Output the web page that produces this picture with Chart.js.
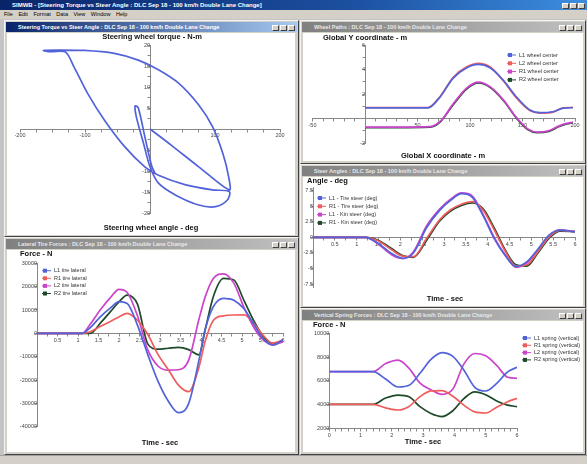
<!DOCTYPE html>
<html>
<head>
<meta charset="utf-8">
<title>Double lane change plots</title>
<script src="https://cdn.jsdelivr.net/npm/chart.js@4.4.1/dist/chart.umd.min.js"></script>
<style>
  body { margin: 0; width: 587px; height: 464px; position: relative; overflow: hidden; background: #c4c4c4; font-family: "Liberation Sans", Arial, sans-serif; }
  .bar { position: absolute; left: 0; width: 587px; white-space: nowrap; overflow: hidden; }
  #apptitle { top: 0; height: 10px; background: linear-gradient(90deg, #0a246a, #1c50a0 60%, #3d8ee0); color: #fff; font-size: 6px; font-weight: bold; line-height: 10px; text-indent: 12px; }
  #menu { top: 10px; height: 9px; background: #d4d0c8; font-size: 5.5px; line-height: 9px; text-indent: 4px; word-spacing: 4px; }
  #status { top: 455px; height: 9px; background: #d4d0c8; border-top: 1px solid #a0a0a0; }
  .win { position: absolute; background: #d4d0c8; border: 1px solid; border-color: #f4f4f4 #404040 #404040 #f4f4f4; box-sizing: border-box; }
  .cap { position: absolute; left: 1px; right: 1px; top: 1px; height: 10px; color: #e8e8e8; font-size: 5.5px; font-weight: bold; line-height: 10px; text-indent: 12px; white-space: nowrap; overflow: hidden; background: linear-gradient(90deg, #808080, #c0c0c0); }
  .cap.on { color: #fff; background: linear-gradient(90deg, #0a246a, #a6caf0); }
  .btns { position: absolute; right: 2px; top: 2px; height: 6px; }
  .btns span { display: inline-block; width: 7px; height: 6px; margin-left: 1px; background: #d4d0c8; box-sizing: border-box; border: 1px solid; border-color: #fff #404040 #404040 #fff; }
  canvas { position: absolute; background: #fff; }
</style>
</head>
<body>
<div id="apptitle" class="bar">SIMWB - [Steering Torque vs Steer Angle : DLC Sep 18 - 100 km/h Double Lane Change]<div class="btns"><span></span><span></span><span></span></div></div>
<div id="menu" class="bar">File Edit Format Data View Window Help</div>

<div class="win" style="left:4px; top:20px; width:295px; height:217px;"><div class="cap on">Steering Torque vs Steer Angle : DLC Sep 18 - 100 km/h Double Lane Change<div class="btns"><span></span><span></span><span></span></div></div></div>
<div class="win" style="left:4px; top:237px; width:295px; height:218px;"><div class="cap">Lateral Tire Forces : DLC Sep 18 - 100 km/h Double Lane Change<div class="btns"><span></span><span></span><span></span></div></div></div>
<div class="win" style="left:300px; top:20px; width:286px; height:144px;"><div class="cap">Wheel Paths : DLC Sep 18 - 100 km/h Double Lane Change<div class="btns"><span></span><span></span><span></span></div></div></div>
<div class="win" style="left:300px; top:164px; width:286px; height:144px;"><div class="cap">Steer Angles : DLC Sep 18 - 100 km/h Double Lane Change<div class="btns"><span></span><span></span><span></span></div></div></div>
<div class="win" style="left:300px; top:308px; width:286px; height:147px;"><div class="cap">Vertical Spring Forces : DLC Sep 18 - 100 km/h Double Lane Change<div class="btns"><span></span><span></span><span></span></div></div></div>
<div id="status" class="bar"></div>

<canvas id="steerChart" width="288" height="202" style="left:7px; top:33px;"></canvas>
<canvas id="lateralChart" width="288" height="202" style="left:7px; top:250px;"></canvas>
<canvas id="pathChart" width="280" height="128" style="left:303px; top:33px;"></canvas>
<canvas id="angleChart" width="280" height="129" style="left:303px; top:177px;"></canvas>
<canvas id="springChart" width="280" height="131" style="left:303px; top:321px;"></canvas>

<script>
// Steering wheel torque vs steering wheel angle
const steerAngle = [0, 34, 75, 122, 121, 112, 96, 75, 44, 13, -18, -55, -101, -143, -164, -153, -130, -117, -96, -70, -39, -8, 13, 55, 96, 122, 119, 101, 75, 39, 13, 0, -10, -21, -23, -18, -8, 3, 8];
const steerTorque = [0, -4.0, -9.0, -14.5, -11.4, -5.8, 0.6, 5.7, 10.9, 14.1, 16.4, 18.0, 18.7, 18.8, 18.7, 18.4, 18.3, 14.8, 8.5, 2.1, -4.2, -9.0, -11.0, -13.3, -14.5, -14.9, -16.9, -18.5, -18.1, -15.7, -12.9, -9.0, -3.4, 2.9, 5.5, 5.0, -1.8, -9.0, -10.6];
const steerXTicks = [-200, -100, 100, 200];
const steerYTicks = [-20, -15, -10, -5, 5, 10, 15, 20];

// Wheel paths, global Y vs global X
const pathLabels = ['L1 wheel center', 'L2 wheel center', 'R1 wheel center', 'R2 wheel center'];
const pathXLeft = [0, 30, 60, 71, 84, 97, 108, 119, 132, 144, 157, 167, 179, 189, 198];
const pathYL1 = [0.87, 0.87, 0.87, 1.70, 3.30, 4.15, 4.42, 4.15, 3.10, 1.78, 0.70, 0.48, 0.55, 0.85, 0.88];
const pathYL2 = [0.90, 0.90, 0.90, 1.74, 3.37, 4.22, 4.50, 4.22, 3.05, 1.70, 0.65, 0.44, 0.52, 0.87, 0.90];
const pathXRight = [0, 30, 62, 72, 84, 97, 108, 119, 132, 144, 155, 164, 175, 185, 192, 198];
const pathYR1 = [-0.71, -0.71, -0.66, -0.20, 1.20, 2.50, 2.97, 2.60, 1.50, 0.10, -0.85, -1.12, -1.00, -0.60, -0.40, -0.30];
const pathYR2 = [-0.74, -0.74, -0.70, -0.25, 1.12, 2.42, 2.90, 2.55, 1.45, 0.05, -0.90, -1.16, -1.05, -0.65, -0.45, -0.34];
const pathXTicks = [-50, 50, 100, 150, 200];
const pathYTicks = [-2, 2, 4, 6];

// Steer angles vs time
const angleLabels = ['L1 - Tire steer (deg)', 'R1 - Tire steer (deg)', 'L1 - Kin steer (deg)', 'R1 - Kin steer (deg)'];
const angleTime = [0, 1.2, 1.5, 1.8, 2.05, 2.3, 2.6, 2.9, 3.15, 3.4, 3.65, 3.9, 4.15, 4.4, 4.65, 4.9, 5.15, 5.4, 5.65, 6.0];
const angleL1 = [0, 0, -1.0, -2.6, -3.35, -2.5, 1.5, 4.3, 5.9, 7.0, 6.4, 3.4, -0.2, -2.9, -4.7, -3.9, -1.9, 0.3, 1.15, 0.9];
const angleR1 = [0, 0, -0.6, -2.0, -3.0, -3.1, -0.2, 2.8, 4.4, 5.3, 5.7, 4.3, 1.2, -2.2, -4.6, -4.4, -2.3, 0.0, 1.1, 0.9];
const angleL1k = [0, 0, -1.1, -2.8, -3.4, -2.3, 1.8, 4.5, 6.1, 7.1, 6.6, 3.6, 0.0, -2.8, -4.8, -4.1, -2.0, 0.2, 1.2, 0.9];
const angleR1k = [0, 0, -0.5, -1.8, -2.9, -3.2, -0.5, 2.6, 4.2, 5.1, 5.5, 4.5, 1.5, -2.0, -4.4, -4.6, -2.5, -0.2, 1.0, 0.9];
const angleXTicks = [0.5, 1, 1.5, 2, 2.5, 3, 3.5, 4, 4.5, 5, 5.5, 6];
const angleYTicks = [-7.5, -5, -2.5, 0, 2.5, 5, 7.5];

// Lateral tire forces vs time
const lateralLabels = ['L1 tire lateral', 'R1 tire lateral', 'L2 tire lateral', 'R2 tire lateral'];
const lateralTime = [0, 1.1, 1.3, 1.55, 1.8, 2.0, 2.2, 2.45, 2.7, 2.95, 3.2, 3.45, 3.7, 3.95, 4.1, 4.3, 4.55, 4.8, 5.05, 5.3, 5.5, 5.75, 6.0];
const lateralL1 = [0, 0, 2500, 7200, 11000, 13570, 12800, 3500, -9000, -20500, -29000, -34000, -30000, -11500, 1500, 11400, 15000, 14200, 10500, 3500, -2000, -5000, -2800];
const lateralR1 = [0, 0, 700, 3000, 5200, 7000, 8570, 5600, -400, -9000, -15500, -22200, -25000, -14500, -3500, 5500, 7500, 7860, 7900, 4000, -500, -4200, -2900];
const lateralL2 = [0, 0, 4000, 10200, 15500, 18860, 17500, 7500, -7000, -14000, -15800, -15600, -11500, 6000, 15500, 23500, 25500, 21500, 11000, 2200, -2500, -5000, -3600];
const lateralR2 = [0, 0, 0, 4500, 9500, 13500, 16400, 12500, -4500, -6800, -6400, -6000, -7000, -9200, 1430, 15700, 23500, 22800, 14000, 5000, -900, -4300, -3100];
const lateralXTicks = [0.5, 1, 1.5, 2, 2.5, 3, 3.5, 4, 4.5, 5, 5.5, 6];
const lateralYTicks = [-40000, -30000, -20000, -10000, 0, 10000, 20000, 30000];

// Vertical spring forces vs time
const springLabels = ['L1 spring (vertical)', 'R1 spring (vertical)', 'L2 spring (vertical)', 'R2 spring (vertical)'];
const springTime = [0, 1.4, 1.8, 2.2, 2.55, 2.9, 3.25, 3.6, 3.95, 4.3, 4.65, 5.0, 5.35, 5.7, 6.0];
const springL1 = [6770, 6770, 6150, 5480, 5620, 6630, 7800, 8370, 8050, 6900, 5450, 5140, 5780, 6750, 7140];
const springR1 = [4020, 4020, 3720, 3540, 3840, 4670, 5150, 5180, 4700, 3950, 3380, 3290, 3780, 4240, 4530];
const springL2 = [6770, 6770, 7450, 7740, 7050, 5800, 5250, 4850, 5300, 7400, 8300, 8100, 7300, 6300, 6210];
const springR2 = [4020, 4020, 4550, 4800, 4650, 3820, 3250, 2990, 3480, 4500, 5070, 4830, 4300, 3950, 3820];
const springXTicks = [0, 1, 2, 3, 4, 5, 6];
const springYTicks = [2000, 4000, 6000, 8000, 10000];

const BLUE = '#5263da';
const RED = '#ef5d5d';
const MAGENTA = '#cc44cc';
const DARK = '#1f4a2a';

Chart.defaults.font.family = '"Liberation Sans", Arial, sans-serif';

// captions and the little legends are drawn at fixed spots, like the original app
const panelText = {
    id: 'panelText',
    afterDraw(chart, args, opts) {
        const ctx = chart.ctx;
        ctx.save();
        ctx.textBaseline = 'middle';
        ctx.fillStyle = '#111';
        ctx.font = 'bold 7.5px "Liberation Sans", Arial, sans-serif';
        [opts.top, opts.bottom].forEach(function (c) {
            if (!c) return;
            ctx.textAlign = c.align;
            ctx.fillText(c.text, c.x, c.y);
        });
        if (opts.legend) {
            ctx.font = '5.5px "Liberation Sans", Arial, sans-serif';
            ctx.textAlign = 'left';
            chart.data.datasets.forEach(function (ds, i) {
                const x = opts.legend.x;
                const y = opts.legend.y + i * opts.legend.dy;
                ctx.strokeStyle = ds.borderColor;
                ctx.lineWidth = 1;
                ctx.beginPath();
                ctx.moveTo(x, y);
                ctx.lineTo(x + 9, y);
                ctx.stroke();
                ctx.fillStyle = ds.borderColor;
                ctx.fillRect(x + 1, y - 2, 4, 4);
                ctx.fillStyle = '#333';
                ctx.fillText(ds.label, x + 12, y);
            });
        }
        ctx.restore();
    }
};

function xy(xs, ys) {
    return xs.map(function (x, i) { return { x: x, y: ys[i] }; });
}

function series(label, xs, ys, color) {
    return { label: label, data: xy(xs, ys), borderColor: color, backgroundColor: color, showLine: true, borderWidth: 1.7, pointRadius: 0 };
}

function axis(min, max, labels, minor, position) {
    return {
        type: 'linear',
        min: min,
        max: max,
        position: position,
        afterBuildTicks: function (scale) {
            const values = labels.slice();
            if (minor) {
                for (let k = 0; min + k * minor <= max + 1e-9; k++) {
                    const v = Math.round((min + k * minor) * 1000) / 1000;
                    if (!values.includes(v)) values.push(v);
                }
                values.sort(function (a, b) { return a - b; });
            }
            scale.ticks = values.map(function (v) { return { value: v }; });
        },
        ticks: {
            callback: function (v) { return labels.includes(v) ? String(v) : ''; },
            font: { size: 5.5 },
            color: '#444',
            padding: 1,
            autoSkip: false,
            maxRotation: 0
        },
        grid: { drawOnChartArea: false, tickLength: 2.5, color: '#888' },
        border: { color: '#888' }
    };
}

function plot(id, datasets, xScale, yScale, padding, text, smooth) {
    new Chart(document.getElementById(id), {
        type: 'scatter',
        data: { datasets: datasets },
        options: {
            responsive: false,
            animation: false,
            events: [],
            layout: { padding: padding },
            elements: { line: smooth },
            scales: { x: xScale, y: yScale },
            plugins: { legend: { display: false }, tooltip: { enabled: false }, panelText: text }
        },
        plugins: [panelText]
    });
}

const loop = { tension: 0.3 };
const timeLine = { cubicInterpolationMode: 'monotone' };

plot('steerChart',
    [series('Steering wheel torque', steerAngle, steerTorque, BLUE)],
    axis(-200, 200, steerXTicks, 25, { y: 0 }),
    axis(-20, 20, steerYTicks, 2.5, { x: 0 }),
    { left: 13, right: 15, top: 12, bottom: 22 },
    {
        top: { text: 'Steering wheel torque - N-m', x: 145, y: 4, align: 'center' },
        bottom: { text: 'Steering wheel angle - deg', x: 144, y: 195, align: 'center' }
    }, loop);

plot('pathChart',
    [series(pathLabels[0], pathXLeft, pathYL1, BLUE),
     series(pathLabels[1], pathXLeft, pathYL2, RED),
     series(pathLabels[2], pathXRight, pathYR1, MAGENTA),
     series(pathLabels[3], pathXRight, pathYR2, DARK)],
    axis(-50, 200, pathXTicks, 10, { y: 0 }),
    axis(-2, 6, pathYTicks, 1, { x: 0 }),
    { left: 9.5, right: 8, top: 12, bottom: 18 },
    {
        top: { text: 'Global Y coordinate - m', x: 20, y: 5, align: 'left' },
        bottom: { text: 'Global X coordinate - m', x: 140, y: 123, align: 'center' },
        legend: { x: 204, y: 22, dy: 8.3 }
    }, timeLine);

plot('angleChart',
    [series(angleLabels[0], angleTime, angleL1, BLUE),
     series(angleLabels[1], angleTime, angleR1, RED),
     series(angleLabels[2], angleTime, angleL1k, MAGENTA),
     series(angleLabels[3], angleTime, angleR1k, DARK)],
    axis(0, 6, angleXTicks, 0.25, { y: 0 }),
    axis(-8, 8, angleYTicks, 0, { x: 0 }),
    { left: 10, right: 8, top: 10.3, bottom: 18.7 },
    {
        top: { text: 'Angle - deg', x: 4, y: 4, align: 'left' },
        bottom: { text: 'Time - sec', x: 142, y: 122, align: 'center' },
        legend: { x: 14, y: 21, dy: 8.3 }
    }, timeLine);

plot('lateralChart',
    [series(lateralLabels[0], lateralTime, lateralL1, BLUE),
     series(lateralLabels[1], lateralTime, lateralR1, RED),
     series(lateralLabels[2], lateralTime, lateralL2, MAGENTA),
     series(lateralLabels[3], lateralTime, lateralR2, DARK)],
    axis(0, 6, lateralXTicks, 0.25, { y: 0 }),
    axis(-40000, 30000, lateralYTicks, 0, { x: 0 }),
    { left: 30, right: 12, top: 13.3, bottom: 25.3 },
    {
        top: { text: 'Force - N', x: 13, y: 4, align: 'left' },
        bottom: { text: 'Time - sec', x: 153, y: 193, align: 'center' },
        legend: { x: 35, y: 20.7, dy: 7.6 }
    }, timeLine);

plot('springChart',
    [series(springLabels[0], springTime, springL1, BLUE),
     series(springLabels[1], springTime, springR1, RED),
     series(springLabels[2], springTime, springL2, MAGENTA),
     series(springLabels[3], springTime, springR2, DARK)],
    axis(0, 6, springXTicks, 0.2, { y: 2000 }),
    axis(2000, 10000, springYTicks, 0, { x: 0 }),
    { left: 26.3, right: 66, top: 12.3, bottom: 23.7 },
    {
        top: { text: 'Force - N', x: 10, y: 4, align: 'left' },
        bottom: { text: 'Time - sec', x: 120, y: 120.7, align: 'center' },
        legend: { x: 219, y: 17, dy: 7.3 }
    }, timeLine);
</script>
</body>
</html>
